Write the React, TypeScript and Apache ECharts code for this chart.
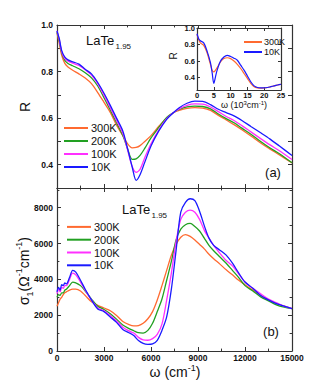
import React, { useEffect, useRef } from 'react';
import * as echarts from 'echarts';

// ---------- data ----------
const temps = ['300K', '200K', '100K', '10K'];
const tempColors = ['#ff6a30', '#22a022', '#ff30ff', '#1a1aff'];

// panel (a): reflectivity vs omega (cm^-1)
const reflOmega = [0, 150, 300, 500, 700, 1000, 1400, 1800, 2200, 2600, 3000, 3400, 3800, 4200, 4500, 4800, 5050, 5300, 5600, 6000, 6500, 7000, 7400, 7800, 8300, 8800, 9300, 9800, 10300, 10800, 11300, 11800, 12400, 13000, 13600, 14200, 15000];
const refl300K = [0.965, 0.92, 0.87, 0.835, 0.82, 0.806, 0.79, 0.772, 0.748, 0.71, 0.668, 0.625, 0.57, 0.525, 0.49, 0.472, 0.474, 0.482, 0.5, 0.525, 0.565, 0.6, 0.622, 0.633, 0.642, 0.645, 0.643, 0.633, 0.612, 0.592, 0.572, 0.55, 0.522, 0.493, 0.467, 0.442, 0.408];
const refl200K = [0.97, 0.93, 0.88, 0.848, 0.835, 0.825, 0.812, 0.795, 0.773, 0.738, 0.688, 0.635, 0.58, 0.525, 0.47, 0.423, 0.425, 0.44, 0.47, 0.515, 0.56, 0.603, 0.622, 0.637, 0.648, 0.652, 0.65, 0.64, 0.618, 0.598, 0.58, 0.557, 0.53, 0.5, 0.472, 0.447, 0.408];
const refl100K = [0.975, 0.935, 0.885, 0.856, 0.845, 0.836, 0.826, 0.808, 0.785, 0.748, 0.698, 0.645, 0.59, 0.535, 0.465, 0.392, 0.367, 0.38, 0.43, 0.49, 0.55, 0.598, 0.622, 0.64, 0.655, 0.661, 0.66, 0.648, 0.628, 0.607, 0.59, 0.568, 0.54, 0.512, 0.485, 0.46, 0.422];
const refl10K = [0.975, 0.94, 0.89, 0.862, 0.85, 0.842, 0.832, 0.81, 0.79, 0.753, 0.707, 0.655, 0.6, 0.545, 0.47, 0.39, 0.333, 0.357, 0.41, 0.48, 0.545, 0.595, 0.622, 0.645, 0.664, 0.673, 0.672, 0.658, 0.638, 0.624, 0.61, 0.59, 0.563, 0.537, 0.51, 0.48, 0.44];

// panel (b): optical conductivity vs omega (cm^-1)
const condOmega = [0, 100, 200, 300, 400, 500, 600, 800, 1000, 1200, 1500, 1800, 2200, 2600, 3000, 3400, 3800, 4200, 4600, 4900, 5200, 5500, 5800, 6100, 6400, 6700, 7000, 7300, 7600, 7900, 8200, 8500, 8800, 9100, 9400, 9700, 10000, 10400, 10800, 11200, 11600, 12000, 12500, 13000, 13500, 14000, 14500, 15000];
const cond300K = [2500, 2700, 2900, 3000, 3150, 3250, 3300, 3400, 3450, 3450, 3350, 3100, 2750, 2550, 2400, 2250, 1980, 1650, 1470, 1400, 1420, 1550, 1800, 2200, 2850, 3650, 4500, 5350, 5950, 6350, 6500, 6400, 6200, 5950, 5700, 5400, 5150, 4850, 4530, 4250, 3950, 3700, 3400, 3100, 2850, 2650, 2500, 2370];
const cond200K = [3000, 3150, 3100, 3250, 3250, 3400, 3450, 3650, 3850, 3800, 3650, 3350, 2900, 2500, 2320, 2080, 1780, 1450, 1250, 1130, 1020, 1000, 1150, 1550, 2200, 2900, 3950, 5000, 6200, 6800, 7050, 7120, 6950, 6700, 6300, 5900, 5600, 5250, 4900, 4500, 4100, 3650, 3350, 3020, 2800, 2580, 2450, 2370];
const cond100K = [3200, 3450, 3300, 3550, 3500, 3650, 3650, 4000, 4350, 4250, 3850, 3400, 2850, 2400, 2250, 1980, 1680, 1330, 1120, 1000, 760, 620, 600, 690, 930, 1500, 2840, 4350, 6100, 7350, 7750, 7870, 7750, 7350, 6750, 6300, 5900, 5450, 5050, 4750, 4300, 3850, 3500, 3200, 2900, 2700, 2500, 2370];
const cond10K = [3300, 3550, 3400, 3700, 3650, 3800, 3750, 4100, 4500, 4400, 3950, 3450, 2850, 2350, 2200, 1900, 1600, 1200, 1020, 860, 580, 420, 370, 400, 600, 1150, 1900, 3450, 5600, 7750, 8300, 8500, 8400, 7800, 7000, 6300, 5900, 5630, 5350, 4900, 4350, 3850, 3500, 3100, 2850, 2650, 2500, 2370];

// inset: reflectivity vs omega (10^3 cm^-1)
const insetTemps = ['300K', '10K'];
const insetOmega = [0, 0.5, 1, 2, 3, 4, 4.5, 5, 5.5, 6, 7, 8, 9, 10, 11, 12, 13, 14, 15, 16, 17, 18, 19, 20, 21, 22, 23, 24, 25];
const inset300K = [0.92, 0.86, 0.82, 0.79, 0.7, 0.56, 0.49, 0.47, 0.49, 0.52, 0.59, 0.63, 0.64, 0.63, 0.6, 0.56, 0.51, 0.45, 0.39, 0.33, 0.29, 0.275, 0.272, 0.275, 0.28, 0.29, 0.3, 0.31, 0.32];
const inset10K = [0.93, 0.87, 0.845, 0.82, 0.72, 0.58, 0.46, 0.33, 0.41, 0.49, 0.6, 0.65, 0.67, 0.655, 0.635, 0.61, 0.55, 0.49, 0.42, 0.35, 0.3, 0.28, 0.275, 0.275, 0.28, 0.29, 0.3, 0.31, 0.32];

// tick values
const insetYLabelValues = [0.4, 0.6, 0.8, 1.0];

const FONT = 'Liberation Sans, Arial, Helvetica, sans-serif';
const AXC = '#333';

function pairs(xs: number[], ys: number[]) {
  return xs.map((x, i) => [x, ys[i]]);
}

const plainNum = (v: number) => String(Math.round(v));

function makeAxis(opts: any) {
  const {
    gridIndex, position, min, max, interval, minorSplit = 0, showLabel = false,
    fontSize = 8.5, margin = 3, tickLen = 4, formatter, showMaxLabel, customLabels,
  } = opts;
  const ax: any = {
    type: 'value', gridIndex, position, min, max,
    axisLine: { show: true, onZero: false, lineStyle: { color: AXC, width: 1.2 } },
    axisTick: { show: true, inside: true, length: tickLen, lineStyle: { color: AXC, width: 1 } },
    minorTick: { show: minorSplit > 0, splitNumber: minorSplit || 5, length: tickLen * 0.6, lineStyle: { color: AXC, width: 1 } },
    splitLine: { show: false },
    minorSplitLine: { show: false },
    axisLabel: {
      show: showLabel, fontSize, fontWeight: 'bold', fontFamily: FONT, color: '#111', margin,
    },
  };
  if (interval !== undefined) ax.interval = interval;
  if (formatter) ax.axisLabel.formatter = formatter;
  if (showMaxLabel !== undefined) ax.axisLabel.showMaxLabel = showMaxLabel;
  if (customLabels) {
    ax.axisLabel.customValues = customLabels;
    ax.axisTick.customValues = customLabels;
  }
  return ax;
}

export default function App() {
  const ref = useRef<HTMLDivElement>(null);

  useEffect(() => {
    if (!ref.current) return;
    const chart = echarts.init(ref.current, undefined, { renderer: 'svg' });

    const reflSets = [refl300K, refl200K, refl100K, refl10K];
    const condSets = [cond300K, cond200K, cond100K, cond10K];
    const insetSets = [inset300K, inset10K];
    const insetColors = [tempColors[0], tempColors[3]];

    const series: any[] = [];
    temps.forEach((t, i) => {
      series.push({
        type: 'line', name: t, xAxisIndex: 0, yAxisIndex: 0,
        data: pairs(reflOmega, reflSets[i]), showSymbol: false, symbol: 'none',
        smooth: 0.3, color: tempColors[i], lineStyle: { width: 1.3, color: tempColors[i] },
      });
    });
    temps.forEach((t, i) => {
      series.push({
        type: 'line', name: t, xAxisIndex: 2, yAxisIndex: 2,
        data: pairs(condOmega, condSets[i]), showSymbol: false, symbol: 'none',
        smooth: 0.3, color: tempColors[i], lineStyle: { width: 1.3, color: tempColors[i] },
      });
    });
    insetTemps.forEach((t, i) => {
      series.push({
        type: 'line', name: t, xAxisIndex: 4, yAxisIndex: 4,
        data: pairs(insetOmega, insetSets[i]), showSymbol: false, symbol: 'none',
        smooth: 0.3, color: insetColors[i], lineStyle: { width: 1.2, color: insetColors[i] },
      });
    });

    const reflFormatter = (v: number) => {
      const r = Math.round(v * 10);
      return r % 2 === 0 ? (r / 10).toFixed(1) : '';
    };

    const option: any = {
      animation: false,
      backgroundColor: '#fff',
      grid: [
        { left: 57, top: 25, width: 235, height: 163, containLabel: false },
        { left: 57, top: 188, width: 235, height: 163, containLabel: false },
        { left: 197, top: 28, width: 84, height: 62, containLabel: false, show: true, backgroundColor: '#fff', borderWidth: 0 },
      ],
      xAxis: [
        makeAxis({ gridIndex: 0, position: 'bottom', min: 0, max: 15000, interval: 3000, minorSplit: 2 }),
        makeAxis({ gridIndex: 0, position: 'top', min: 0, max: 15000, interval: 3000, minorSplit: 2 }),
        makeAxis({ gridIndex: 1, position: 'bottom', min: 0, max: 15000, interval: 3000, minorSplit: 2, showLabel: true, margin: 2, formatter: plainNum }),
        makeAxis({ gridIndex: 1, position: 'top', min: 0, max: 15000, interval: 3000, minorSplit: 2 }),
        makeAxis({ gridIndex: 2, position: 'bottom', min: 0, max: 25, interval: 5, showLabel: true, fontSize: 7.5, margin: 1, tickLen: 3, formatter: plainNum }),
        makeAxis({ gridIndex: 2, position: 'top', min: 0, max: 25, interval: 5, tickLen: 3 }),
      ],
      yAxis: [
        makeAxis({ gridIndex: 0, position: 'left', min: 0.3, max: 1.0, interval: 0.1, showLabel: true, margin: 4, formatter: reflFormatter }),
        makeAxis({ gridIndex: 0, position: 'right', min: 0.3, max: 1.0, interval: 0.1 }),
        makeAxis({ gridIndex: 1, position: 'left', min: 0, max: 9100, interval: 2000, minorSplit: 2, showLabel: true, margin: 4, showMaxLabel: false, formatter: plainNum }),
        makeAxis({ gridIndex: 1, position: 'right', min: 0, max: 9100, interval: 2000, minorSplit: 2, showMaxLabel: false }),
        makeAxis({ gridIndex: 2, position: 'left', min: 0.25, max: 1.0, showLabel: true, fontSize: 7.5, margin: 2, tickLen: 3, customLabels: insetYLabelValues, formatter: (v: number) => v.toFixed(1) }),
        makeAxis({ gridIndex: 2, position: 'right', min: 0.25, max: 1.0, tickLen: 3, customLabels: insetYLabelValues }),
      ],
      legend: [
        {
          data: temps, orient: 'vertical', left: 59, top: 116.5, icon: 'rect',
          itemWidth: 24, itemHeight: 2, itemGap: 0, selectedMode: false,
          textStyle: { fontSize: 11, fontFamily: FONT, color: '#111', lineHeight: 13, padding: [0, 0, 0, -2] },
        },
        {
          data: temps, orient: 'vertical', left: 62, top: 215.5, icon: 'rect',
          itemWidth: 24, itemHeight: 2, itemGap: 0, selectedMode: false,
          textStyle: { fontSize: 11, fontFamily: FONT, color: '#111', lineHeight: 12.8, padding: [0, 0, 0, -2] },
        },
        {
          data: insetTemps, orient: 'vertical', left: 239, top: 32, icon: 'rect',
          itemWidth: 18, itemHeight: 2, itemGap: 0, selectedMode: false,
          textStyle: { fontSize: 9, fontFamily: FONT, color: '#111', lineHeight: 10, padding: [0, 0, 0, -3] },
        },
      ],
      graphic: [
        { type: 'text', x: 86, y: 40, style: { text: 'LaTe', fontSize: 13, fontFamily: FONT, fill: '#111', align: 'left', verticalAlign: 'middle' } },
        { type: 'text', x: 115.5, y: 46.5, style: { text: '1.95', fontSize: 8, fontFamily: FONT, fill: '#111', align: 'left', verticalAlign: 'middle' } },
        { type: 'text', x: 122, y: 209, style: { text: 'LaTe', fontSize: 13, fontFamily: FONT, fill: '#111', align: 'left', verticalAlign: 'middle' } },
        { type: 'text', x: 151.5, y: 215.5, style: { text: '1.95', fontSize: 8, fontFamily: FONT, fill: '#111', align: 'left', verticalAlign: 'middle' } },
        { type: 'text', x: 25, y: 107, rotation: Math.PI / 2, style: { text: 'R', fontSize: 14, fontFamily: FONT, fill: '#111', align: 'center', verticalAlign: 'middle' } },
        { type: 'text', x: 273, y: 172.5, style: { text: '(a)', fontSize: 13, fontFamily: FONT, fill: '#111', align: 'center', verticalAlign: 'middle' } },
        { type: 'text', x: 271, y: 331, style: { text: '(b)', fontSize: 13, fontFamily: FONT, fill: '#111', align: 'center', verticalAlign: 'middle' } },
        { type: 'text', x: 173, y: 56, rotation: Math.PI / 2, style: { text: 'R', fontSize: 10, fontFamily: FONT, fill: '#111', align: 'center', verticalAlign: 'middle' } },
        {
          type: 'text', x: 244, y: 104.5,
          style: {
            text: '{a|ω (10}{s|3}{a|cm}{s|-1}{a|)}', align: 'center', verticalAlign: 'middle',
            rich: {
              a: { fontSize: 9, fontFamily: FONT, fill: '#111', lineHeight: 10, verticalAlign: 'bottom' },
              s: { fontSize: 6, fontFamily: FONT, fill: '#111', lineHeight: 10, verticalAlign: 'top' },
            },
          },
        },
        {
          type: 'text', x: 175, y: 371,
          style: {
            text: '{a|ω (cm}{s|-1}{a|)}', align: 'center', verticalAlign: 'middle',
            rich: {
              a: { fontSize: 14, fontFamily: FONT, fill: '#111', lineHeight: 15, verticalAlign: 'bottom' },
              s: { fontSize: 9, fontFamily: FONT, fill: '#111', lineHeight: 15, verticalAlign: 'top' },
            },
          },
        },
        {
          type: 'text', x: 24, y: 271, rotation: Math.PI / 2,
          style: {
            text: '{a|σ}{b|1}{a|(Ω}{s|-1}{a|cm}{s|-1}{a|)}', align: 'center', verticalAlign: 'middle',
            rich: {
              a: { fontSize: 14, fontFamily: FONT, fill: '#111', lineHeight: 20, verticalAlign: 'middle' },
              s: { fontSize: 9, fontFamily: FONT, fill: '#111', lineHeight: 20, verticalAlign: 'top' },
              b: { fontSize: 9, fontFamily: FONT, fill: '#111', lineHeight: 20, verticalAlign: 'bottom' },
            },
          },
        },
      ],
      series,
    };

    chart.setOption(option);
    return () => chart.dispose();
  }, []);

  return <div ref={ref} style={{ position: 'fixed', left: 0, top: 0, width: 332, height: 380 }} />;
}
